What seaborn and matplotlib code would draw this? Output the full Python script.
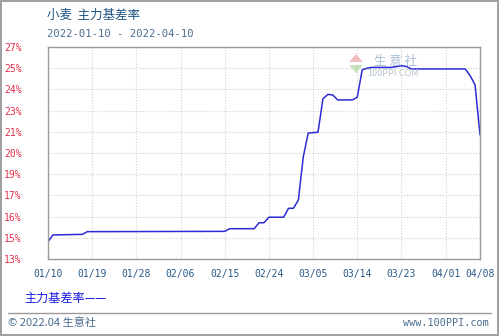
import matplotlib
matplotlib.use("Agg")
import matplotlib.pyplot as plt
from matplotlib.patches import Polygon
import seaborn as sns
import pandas as pd
import numpy as np

# ---------------- data ----------------
dates = ["2022-01-10", "2022-01-11", "2022-01-17", "2022-01-18", "2022-02-15",
         "2022-02-16", "2022-02-21", "2022-02-22", "2022-02-23", "2022-02-24",
         "2022-02-27", "2022-02-28", "2022-03-01", "2022-03-02", "2022-03-03",
         "2022-03-04", "2022-03-06", "2022-03-07", "2022-03-08", "2022-03-09",
         "2022-03-10", "2022-03-13", "2022-03-14", "2022-03-15", "2022-03-16",
         "2022-03-17", "2022-03-21", "2022-03-23", "2022-03-24", "2022-03-25",
         "2022-04-05", "2022-04-06", "2022-04-07", "2022-04-08"]
values = [14.80, 15.23, 15.27, 15.44, 15.46,
          15.63, 15.63, 16.01, 16.01, 16.36,
          16.36, 16.93, 16.93, 17.46, 20.20,
          21.72, 21.77, 23.90, 24.18, 24.15,
          23.83, 23.83, 24.00, 25.74, 25.85,
          25.90, 25.90, 26.01, 25.96, 25.80,
          25.80, 25.37, 24.78, 21.60]

xtick_dates = ["2022-01-10", "2022-01-19", "2022-01-28", "2022-02-06", "2022-02-15",
               "2022-02-24", "2022-03-05", "2022-03-14", "2022-03-23", "2022-04-01",
               "2022-04-08"]
xtick_labels = ["01/10", "01/19", "01/28", "02/06", "02/15", "02/24", "03/05",
                "03/14", "03/23", "04/01", "04/08"]
ytick_labels = ["13%", "15%", "16%", "17%", "19%", "20%", "21%", "23%", "24%",
                "25%", "27%"]
y_min, y_max = 13.7, 27.2

title = "小麦  主力基差率"
subtitle = "2022-01-10 - 2022-04-10"
legend_text = "主力基差率——"
footer_left = "© 2022.04 生意社"
footer_right = "www.100PPI.com"

# ---------------- figure ----------------
sns.set_style("white")
plt.rcParams["font.family"] = ["Noto Sans CJK SC", "DejaVu Sans"]

W, H = 499, 336
fig = plt.figure(figsize=(W / 100, H / 100), dpi=100)
fig.patch.set_facecolor("white")
fig.patch.set_edgecolor("#a0a0a0")
fig.patch.set_linewidth(1.5)

L, R, T, B = 48, 480, 47, 259
ax = fig.add_axes([L / W, 1 - B / H, (R - L) / W, (B - T) / H])

df = pd.DataFrame({"date": pd.to_datetime(dates), "value": values})
sns.lineplot(data=df, x="date", y="value", ax=ax, color="#2b2bd6", linewidth=1.1)

ax.set_xlim(pd.Timestamp("2022-01-10"), pd.Timestamp("2022-04-08"))
ax.set_ylim(y_min, y_max)
ax.set_xticks(pd.to_datetime(xtick_dates))
ax.set_xticklabels(xtick_labels, family="DejaVu Sans Mono", fontsize=7,
                   color="#2a5a88")
ax.set_yticks(np.linspace(y_min, y_max, len(ytick_labels)))
ax.set_yticklabels(ytick_labels, family="DejaVu Sans Mono", fontsize=7,
                   color="#e0304a")
ax.tick_params(axis="x", length=0, pad=7)
ax.tick_params(axis="y", length=0, pad=0)
for lbl in ax.get_yticklabels():
    lbl.set_horizontalalignment("left")
    lbl.set_x(-(L - 4) / (R - L))
ax.set_xlabel("")
ax.set_ylabel("")
ax.grid(True, color="#d2d2d2", linestyle=(0, (1, 1.5)), linewidth=0.8)
for s in ax.spines.values():
    s.set_color("#9a9a9a")
    s.set_linewidth(1.0)

# texts
def fx(px):
    return px / W

def fy(py):
    return 1 - py / H

fig.text(fx(47), fy(15), title, fontsize=9, color="#1f5585", va="center")
fig.text(fx(47), fy(34), subtitle, family="DejaVu Sans Mono", fontsize=7.6,
         color="#4a6d8f", va="center")
fig.text(fx(24), fy(298), legend_text, fontsize=8.7, color="#1a1ae0", va="center")
fig.add_artist(plt.Line2D([fx(8), fx(491)], [fy(313), fy(313)],
                          color="#9a9a9a", linewidth=1))
fig.text(fx(8), fy(323), footer_left, fontsize=8, color="#4a6d8f", va="center",
         family=["Noto Sans CJK SC", "DejaVu Sans Mono"])
fig.text(fx(489), fy(323), footer_right, family="DejaVu Sans Mono", fontsize=7.3,
         color="#4a6d8f", va="center", ha="right")

# watermark
fig.add_artist(Polygon([[fx(349), fy(62)], [fx(356), fy(54)], [fx(363), fy(62)]],
                       closed=True, facecolor="#f0b0b0", edgecolor="none",
                       alpha=0.8))
fig.add_artist(Polygon([[fx(349), fy(65)], [fx(356), fy(73)], [fx(363), fy(65)]],
                       closed=True, facecolor="#b8dcb0", edgecolor="none",
                       alpha=0.8))
fig.text(fx(395), fy(61), "生 意 社", fontsize=9, color="#a9bfd6", va="center",
         ha="center")
fig.text(fx(393), fy(74), "100PPI.COM", fontsize=6.5, color="#b8c4cf",
         va="center", ha="center")

fig.savefig("out.png", dpi=100, facecolor="white", edgecolor=fig.get_edgecolor())
